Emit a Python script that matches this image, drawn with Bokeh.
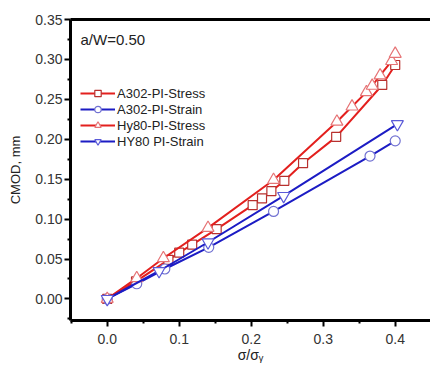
from bokeh.plotting import figure
from bokeh.models import LinearAxis, Label, Legend, LegendItem, Range1d, FixedTicker, NumeralTickFormatter
from bokeh.embed import file_html
from bokeh.resources import INLINE

# data
a302_stress_x = [0.0, 0.04, 0.085, 0.10, 0.118, 0.152, 0.202, 0.215, 0.228, 0.246, 0.272, 0.318, 0.382, 0.40]
a302_stress_y = [0.0, 0.022, 0.049, 0.058, 0.068, 0.0875, 0.1175, 0.126, 0.135, 0.148, 0.170, 0.203, 0.268, 0.293]
a302_strain_x = [0.0, 0.041, 0.08, 0.141, 0.231, 0.365, 0.40]
a302_strain_y = [0.0, 0.019, 0.0375, 0.0646, 0.1096, 0.179, 0.198]
hy80_stress_x = [0.0, 0.041, 0.078, 0.14, 0.231, 0.319, 0.34, 0.36, 0.368, 0.379, 0.395, 0.40]
hy80_stress_y = [0.0, 0.026, 0.051, 0.089, 0.149, 0.222, 0.241, 0.259, 0.267, 0.280, 0.298, 0.307]
hy80_strain_x = [0.0, 0.072, 0.14, 0.245, 0.403]
hy80_strain_y = [0.0, 0.035, 0.071, 0.129, 0.219]
x_ticks = [0.0, 0.1, 0.2, 0.3, 0.4]
y_ticks = [0.0, 0.05, 0.10, 0.15, 0.20, 0.25, 0.30, 0.35]

RED = "#e3201e"
BLUE = "#1c1cc4"
FONT = "Liberation Sans"

p = figure(width=430, height=365, output_backend="svg", toolbar_location=None,
           x_range=Range1d(-0.051, 0.449), y_range=Range1d(-0.027, 0.35),
           min_border_left=70, min_border_right=0, min_border_top=19, min_border_bottom=44)
p.outline_line_color = None
p.grid.visible = False
p.background_fill_color = "white"

series = [
    ("A302-PI-Stress", a302_stress_x, a302_stress_y, RED, "square", "#b8302e", 9),
    ("A302-PI-Strain", a302_strain_x, a302_strain_y, BLUE, "circle", "#7272d2", 10),
    ("Hy80-PI-Stress", hy80_stress_x, hy80_stress_y, RED, "triangle", "#e67476", 12),
    ("HY80 PI-Strain", hy80_strain_x, hy80_strain_y, BLUE, "inverted_triangle", "#5a5ad8", 12),
]
items = []
for name, xs, ys, lc, marker, mc, sz in series:
    r1 = p.line(xs, ys, line_color=lc, line_width=2)
    r2 = p.scatter(xs, ys, marker=marker, size=sz, line_color=mc, line_width=1.2, fill_color="white")
    items.append(LegendItem(label=name, renderers=[r1, r2]))

legend = Legend(items=items, location=(10, 171), glyph_width=35, glyph_height=16,
                label_height=16, spacing=0, padding=0, margin=0, label_standoff=2,
                border_line_color=None, background_fill_alpha=0,
                label_text_font=FONT, label_text_font_size="13px", label_text_color="#222222")
p.add_layout(legend, "center")

p.add_layout(Label(x=10, y=281, x_units="screen", y_units="screen", text="a/W=0.50",
                   text_font=FONT, text_font_size="15px", text_baseline="middle", text_color="#222222"))

for ax in (p.xaxis[0], p.yaxis[0]):
    ax.axis_line_width = 3
    ax.axis_line_color = "black"
    ax.major_tick_line_width = 2
    ax.minor_tick_line_width = 2
    ax.major_tick_in = 0
    ax.major_tick_out = 6
    ax.minor_tick_in = 0
    ax.minor_tick_out = 3
    ax.major_label_text_font = FONT
    ax.major_label_text_font_size = "14px"
    ax.major_label_text_color = "#333333"
    ax.axis_label_text_font = FONT
    ax.axis_label_text_font_size = "13px"
    ax.axis_label_text_font_style = "normal"
    ax.axis_label_text_color = "#222222"

p.xaxis.ticker = FixedTicker(ticks=x_ticks, minor_ticks=[-0.05, 0.05, 0.15, 0.25, 0.35])
p.yaxis.ticker = FixedTicker(ticks=y_ticks, minor_ticks=[-0.025, 0.025, 0.075, 0.125, 0.175, 0.225, 0.275, 0.325])
p.xaxis.formatter = NumeralTickFormatter(format="0.0")
p.yaxis.formatter = NumeralTickFormatter(format="0.00")
p.xaxis.axis_label = "σ/σᵧ"
p.xaxis.axis_label_text_font_size = "14px"
p.yaxis.axis_label = "CMOD, mm"
p.xaxis.major_label_standoff = 7
p.xaxis.axis_label_standoff = 0
p.yaxis.major_label_standoff = 2
p.yaxis.axis_label_standoff = 9

top = LinearAxis(axis_line_width=3, axis_line_color="black",
                 ticker=FixedTicker(ticks=[], minor_ticks=[]),
                 major_tick_line_color=None, minor_tick_line_color=None,
                 major_label_standoff=0)
p.add_layout(top, "above")

open("out.html", "w").write(file_html(p, INLINE))
